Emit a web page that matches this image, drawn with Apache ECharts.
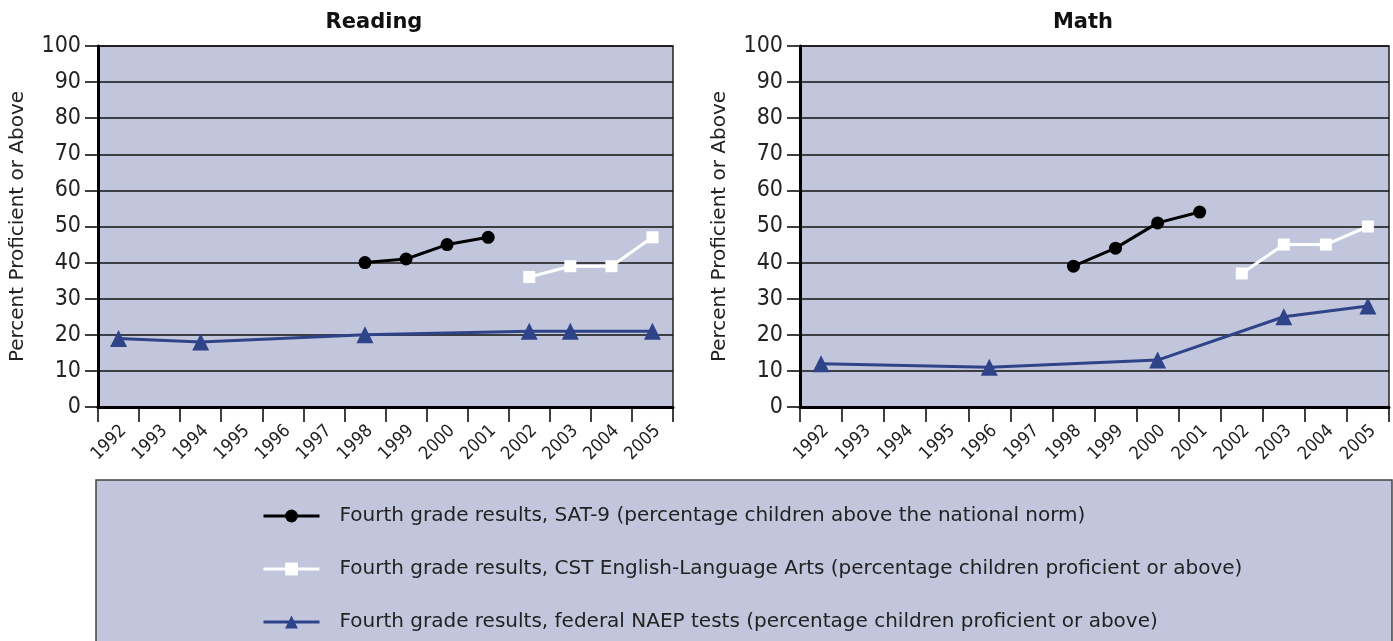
<!DOCTYPE html>
<html>
<head>
<meta charset="utf-8">
<title>Reading and Math</title>
<script src="https://cdn.jsdelivr.net/npm/echarts@6/dist/echarts.min.js"></script>
<style>
  html, body { margin: 0; padding: 0; background: #fff; }
  #chart { width: 1393px; height: 641px; }
</style>
</head>
<body>
<div id="chart"></div>
<script>
// years on the x axis (same for both panels)
const years = ['1992', '1993', '1994', '1995', '1996', '1997', '1998', '1999', '2000', '2001', '2002', '2003', '2004', '2005']
const yTicks = [0, 10, 20, 30, 40, 50, 60, 70, 80, 90, 100]

// Reading
const readingSat9 = [null, null, null, null, null, null, 40, 41, 45, 47, null, null, null, null]
const readingCst = [null, null, null, null, null, null, null, null, null, null, 36, 39, 39, 47]
const readingNaep = [19, null, 18, null, null, null, 20, null, null, null, 21, 21, null, 21]

// Math
const mathSat9 = [null, null, null, null, null, null, 39, 44, 51, 54, null, null, null, null]
const mathCst = [null, null, null, null, null, null, null, null, null, null, 37, 45, 45, 50]
const mathNaep = [12, null, null, null, 11, null, null, null, 13, null, null, 25, null, 28]

const seriesNames = [
  'Fourth grade results, SAT-9 (percentage children above the national norm)',
  'Fourth grade results, CST English-Language Arts (percentage children proficient or above)',
  'Fourth grade results, federal NAEP tests (percentage children proficient or above)'
]

const plotBg = '#c1c6dc'
const navy = '#2f4389'
const narrow = "'Liberation Sans Narrow', 'DejaVu Sans Condensed', 'Liberation Sans', sans-serif"
const plain = "'DejaVu Sans', 'Liberation Sans', sans-serif"

function xAxis(gridIndex) {
  return {
    type: 'category',
    gridIndex: gridIndex,
    data: years,
    boundaryGap: true,
    axisLine: { lineStyle: { color: '#000', width: 3 } },
    axisTick: { show: true, length: 15, interval: 0, lineStyle: { color: '#000', width: 1.5 } },
    axisLabel: {
      interval: 0,
      rotate: 45,
      margin: 26,
      padding: [0, -7, 0, 0],
      color: '#222',
      fontFamily: narrow,
      fontSize: 18
    },
    splitLine: { show: false }
  }
}

function yAxis(gridIndex) {
  return {
    type: 'value',
    gridIndex: gridIndex,
    min: yTicks[0],
    max: yTicks[yTicks.length - 1],
    interval: 10,
    name: 'Percent Proficient or Above',
    nameLocation: 'middle',
    nameGap: 70,
    nameTextStyle: { color: '#222', fontFamily: plain, fontSize: 20 },
    axisLine: { show: true, lineStyle: { color: '#000', width: 3 } },
    axisTick: { show: true, length: 13, lineStyle: { color: '#000', width: 1.5 } },
    axisLabel: { color: '#222', fontFamily: narrow, fontSize: 23, margin: 17 },
    splitLine: { lineStyle: { color: '#111', width: 1.5 } }
  }
}

function panelSeries(idx, sat9, cst, naep) {
  return [
    {
      name: seriesNames[0],
      type: 'line',
      xAxisIndex: idx,
      yAxisIndex: idx,
      data: sat9,
      symbol: 'circle',
      symbolSize: 13,
      itemStyle: { color: '#000' },
      lineStyle: { color: '#000', width: 3 },
      z: 4
    },
    {
      name: seriesNames[1],
      type: 'line',
      xAxisIndex: idx,
      yAxisIndex: idx,
      data: cst,
      symbol: 'rect',
      symbolSize: 12,
      itemStyle: { color: '#fff' },
      lineStyle: { color: '#fff', width: 3 },
      z: 4
    },
    {
      name: seriesNames[2],
      type: 'line',
      xAxisIndex: idx,
      yAxisIndex: idx,
      data: naep,
      connectNulls: true,
      symbol: 'triangle',
      symbolSize: 17,
      itemStyle: { color: navy },
      lineStyle: { color: navy, width: 3 },
      z: 3
    }
  ]
}

const chart = echarts.init(document.getElementById('chart'))
chart.setOption({
  animation: false,
  backgroundColor: '#fff',
  title: [
    { text: 'Reading', left: 369, top: 7, textAlign: 'center',
      textStyle: { fontFamily: plain, fontWeight: 'bold', fontSize: 21, color: '#111' } },
    { text: 'Math', left: 1078, top: 7, textAlign: 'center',
      textStyle: { fontFamily: plain, fontWeight: 'bold', fontSize: 21, color: '#111' } }
  ],
  grid: [
    { left: 98, right: 720, top: 46, bottom: 234, outerBoundsMode: 'none',
      show: true, backgroundColor: plotBg, borderColor: '#222', borderWidth: 1.5 },
    { left: 800, right: 4, top: 46, bottom: 234, outerBoundsMode: 'none',
      show: true, backgroundColor: plotBg, borderColor: '#222', borderWidth: 1.5 }
  ],
  xAxis: [xAxis(0), xAxis(1)],
  yAxis: [yAxis(0), yAxis(1)],
  graphic: [
    {
      type: 'rect',
      z: -1,
      shape: { x: 96, y: 480, width: 1296, height: 180 },
      style: { fill: plotBg, stroke: '#444', lineWidth: 1.5 }
    }
  ],
  legend: {
    orient: 'vertical',
    left: 257,
    top: 499,
    itemWidth: 56,
    itemHeight: 16,
    itemGap: 29,
    data: seriesNames,
    lineStyle: { width: 3 },
    textStyle: { color: '#222', fontFamily: plain, fontSize: 20, lineHeight: 24, padding: [0, 0, 0, 15] }
  },
  series: panelSeries(0, readingSat9, readingCst, readingNaep)
    .concat(panelSeries(1, mathSat9, mathCst, mathNaep))
})
</script>
</body>
</html>
